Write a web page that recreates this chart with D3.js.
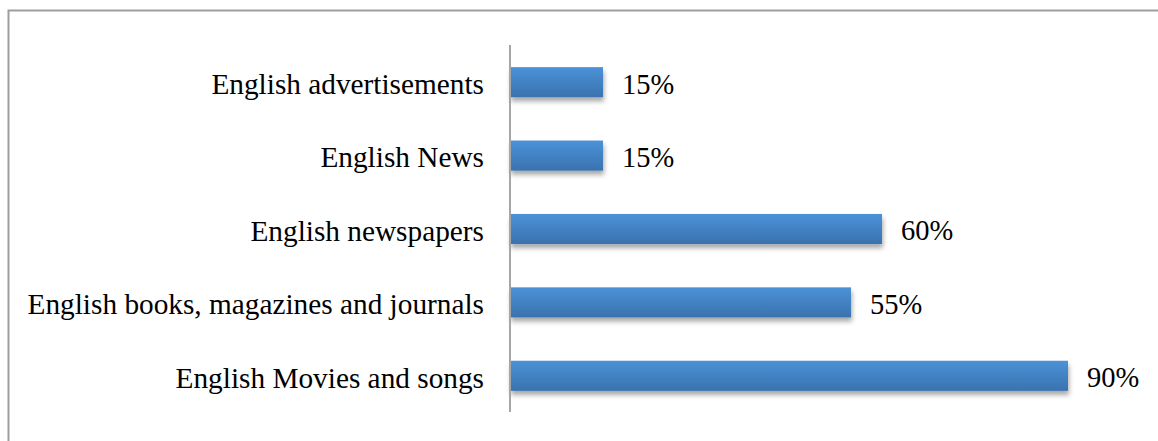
<!DOCTYPE html>
<html>
<head>
<meta charset="utf-8">
<script src="https://cdn.jsdelivr.net/npm/d3@7"></script>
<style>
  html, body { margin: 0; padding: 0; background: #fff; }
  svg { display: block; }
  text { font-family: "Liberation Serif", "Times New Roman", serif; fill: #000; }
</style>
</head>
<body>
<svg id="chart" width="1158" height="441"></svg>
<script>
// Media sources and share of respondents using each (percent)
const categories = [
  "English advertisements",
  "English News",
  "English newspapers",
  "English books, magazines and journals",
  "English Movies and songs"
];
const values = [15, 15, 60, 55, 90];
const valueLabels = ["15%", "15%", "60%", "55%", "90%"];

const W = 1158, H = 441;
const svg = d3.select("#chart");

// Outer chart frame (top and left edges visible)
svg.append("rect")
  .attr("x", 8.5).attr("y", 10.5)
  .attr("width", W + 20).attr("height", H + 20)
  .attr("fill", "none")
  .attr("stroke", "#9e9e9e")
  .attr("stroke-width", 2);

const defs = svg.append("defs");
const grad = defs.append("linearGradient")
  .attr("id", "barGrad")
  .attr("x1", 0).attr("y1", 0).attr("x2", 0).attr("y2", 1);
grad.append("stop").attr("offset", "0%").attr("stop-color", "#4b92d8");
grad.append("stop").attr("offset", "100%").attr("stop-color", "#3a72ae");

const shadow = defs.append("filter")
  .attr("id", "barShadow")
  .attr("x", "-5%").attr("y", "-20%")
  .attr("width", "115%").attr("height", "160%");
shadow.append("feDropShadow")
  .attr("dx", 1).attr("dy", 4)
  .attr("stdDeviation", 2.5)
  .attr("flood-color", "#000")
  .attr("flood-opacity", 0.35);

const x0 = 510;
const x = d3.scaleLinear().domain([0, 100]).range([x0, x0 + 620]);
const y = d3.scaleBand()
  .domain(categories)
  .range([45.5, 412.5])
  .paddingInner(0.59)
  .paddingOuter(0.295);

const rows = categories.map((c, i) => ({ c, v: values[i], label: valueLabels[i] }));

// Bars
svg.append("g").selectAll("rect")
  .data(rows)
  .enter().append("rect")
  .attr("x", x(0))
  .attr("y", d => y(d.c))
  .attr("width", d => x(d.v) - x(0))
  .attr("height", y.bandwidth())
  .attr("fill", "url(#barGrad)")
  .attr("filter", "url(#barShadow)");

// Category axis on the left, line only with text labels
const axis = d3.axisLeft(y).tickSize(0).tickPadding(26);
const gAxis = svg.append("g")
  .attr("transform", `translate(${x0},0)`)
  .call(axis);
gAxis.select(".domain")
  .attr("d", `M0,${45}V${412}`)
  .attr("stroke", "#a6a6a6")
  .attr("stroke-width", 2);
gAxis.selectAll("text")
  .attr("dy", "0.4em")
  .style("font-family", '"Liberation Serif", "Times New Roman", serif')
  .style("font-size", "29.3px")
  .attr("fill", "#000");

// Value labels
svg.append("g").selectAll("text")
  .data(rows)
  .enter().append("text")
  .attr("x", d => x(d.v) + 19)
  .attr("y", d => y(d.c) + y.bandwidth() / 2)
  .attr("dy", "0.4em")
  .style("font-size", "28.5px")
  .text(d => d.label);
</script>
</body>
</html>
